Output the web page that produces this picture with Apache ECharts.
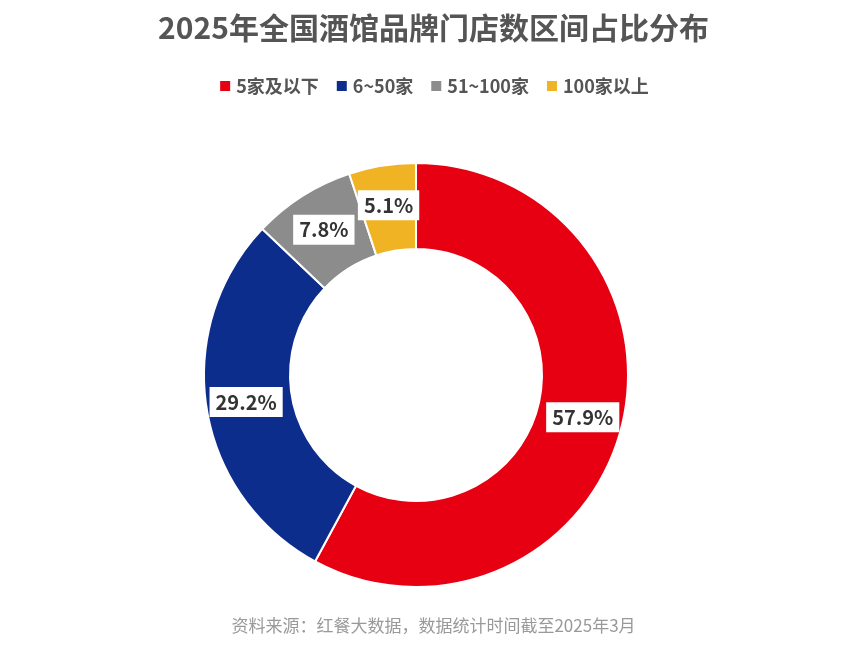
<!DOCTYPE html>
<html>
<head>
<meta charset="utf-8">
<script src="https://cdn.jsdelivr.net/npm/echarts@6/dist/echarts.min.js"></script>
<style>
html,body{margin:0;padding:0;background:#fff;}
#main{width:867px;height:655px;}
</style>
</head>
<body>
<div id="main"></div>
<script>
var categories = ['5家及以下', '6~50家', '51~100家', '100家以上'];
var shares = [57.9, 29.2, 7.8, 5.1];
var colors = ['#e60012', '#0c2d8c', '#8c8c8c', '#f0b323'];

var font = '"Noto Sans CJK SC", "Noto Sans", sans-serif';
var myChart = echarts.init(document.getElementById('main'));
var option = {
	backgroundColor: '#fff',
	color: colors,
	title: {
		text: '2025年全国酒馆品牌门店数区间占比分布',
		left: 'center',
		top: 8,
		textStyle: { fontSize: 30, fontWeight: 'bold', color: '#555', fontFamily: font }
	},
	legend: {
		top: 72,
		left: 'center',
		icon: 'rect',
		itemWidth: 12,
		itemHeight: 12,
		itemGap: 16,
		textStyle: { fontSize: 18, fontWeight: 'bold', color: '#555', fontFamily: font },
		data: categories
	},
	graphic: [{
		type: 'text',
		left: 'center',
		top: 617,
		style: { text: '资料来源：红餐大数据，数据统计时间截至2025年3月', fill: '#999', font: '17px ' + font }
	}],
	series: [{
		type: 'pie',
		center: [416, 375],
		radius: [126, 212],
		startAngle: 90,
		clockwise: true,
		itemStyle: { borderColor: '#fff', borderWidth: 2 },
		label: {
			position: 'inside',
			formatter: function (p) { return p.value.toFixed(1) + '%'; },
			backgroundColor: '#fff',
			padding: [5, 6],
			color: '#333',
			fontSize: 20,
			fontWeight: 'bold',
			fontFamily: font
		},
		labelLine: { show: false },
		data: categories.map(function (c, i) { return { name: c, value: shares[i] }; })
	}]
};
myChart.setOption(option);
</script>
</body>
</html>
